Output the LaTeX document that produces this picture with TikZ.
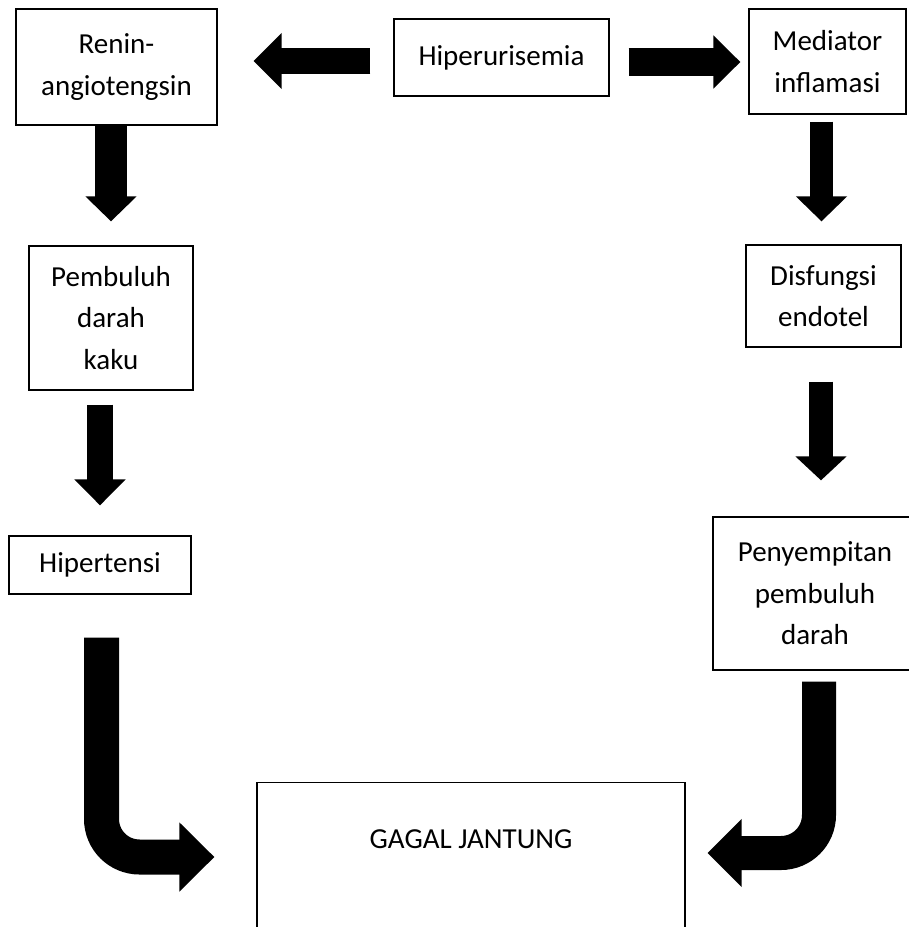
\documentclass[tikz,border=0pt]{standalone}
\usepackage{fontspec}
\setmainfont{Carlito}
\usetikzlibrary{arrows.meta}
\tikzset{
	box/.style={draw, line width=1.4pt, align=center, inner sep=0pt,
		font=\fontsize{29}{41.5}\selectfont},
	fatarrow/.style n args={3}{line width=#1, line cap=butt,
		-{Triangle[length=#2, width=#3, line width=2pt]}},
	bentarrow/.style n args={3}{fatarrow={#1}{#2}{#3}, rounded corners=38pt}
}

\begin{document}
\begin{tikzpicture}[x=1pt, y=-1pt]
			%%%%% START %%%%%
			
			\path[use as bounding box, clip] (0, 0) rectangle (909, 927);
			
			\node[box, minimum width=201pt, minimum height=116pt] (renin) at (116.5, 67) {Renin-\\angiotengsin};
			\node[box, minimum width=215pt, minimum height=77pt] (hiper) at (501.5, 57.5) {Hiperurisemia};
			\node[box, minimum width=157pt, minimum height=105pt] (mediator) at (827.5, 61.5) {Mediator\\inflamasi};
			
			\node[box, minimum width=164pt, minimum height=144pt] (pembuluh) at (111, 318) {Pembuluh\\darah\\kaku};
			\node[box, minimum width=155pt, minimum height=102pt] (disfungsi) at (823.5, 296) {Disfungsi\\endotel};
			
			\node[box, minimum width=182pt, minimum height=58pt] (hipertensi) at (100, 565) {Hipertensi};
			\node[box, minimum width=204pt, minimum height=153pt] (penyempitan) at (815, 593.5) {Penyempitan\\pembuluh\\darah};
			
			\node[box, anchor=north, minimum width=428pt, text height=18pt, text depth=120pt, inner ysep=48pt] (gagal) at (471, 782) {GAGAL JANTUNG};
			
			% top row
			\draw[fatarrow={26pt}{28pt}{56pt}, shorten <=23pt, shorten >=36pt] ([yshift=-3.5pt]hiper.west) -- ([yshift=-3.5pt]hiper.west -| renin.east);
			\draw[fatarrow={28pt}{27pt}{53pt}, shorten <=19pt, shorten >=8pt] ([yshift=-4.5pt]hiper.east) -- ([yshift=-4.5pt]hiper.east -| mediator.west);
			
			% left column
			\draw[fatarrow={32pt}{25pt}{51pt}, shorten <=0pt, shorten >=24pt] (pembuluh.north |- renin.south) -- (pembuluh.north);
			\draw[fatarrow={26pt}{26pt}{51pt}, shorten <=14pt, shorten >=30pt] (hipertensi.north |- pembuluh.south) -- (hipertensi.north);
			
			% right column
			\draw[fatarrow={23pt}{25pt}{51pt}, shorten <=7pt, shorten >=23pt] ([xshift=-2pt]disfungsi.north |- mediator.south) -- ([xshift=-2pt]disfungsi.north);
			\draw[fatarrow={24pt}{24pt}{51pt}, shorten <=34pt, shorten >=36pt] ([xshift=-2.5pt]disfungsi.south) -- ([xshift=-2.5pt]disfungsi.south |- penyempitan.north);
			
			% into gagal jantung
			\draw[bentarrow={35pt}{35pt}{69pt}, shorten <=43pt, shorten >=42pt] ([xshift=1.5pt]hipertensi.south) |- ([yshift=-75pt]gagal.north west);
			\draw[bentarrow={34pt}{34pt}{68pt}, shorten <=11pt, shorten >=22pt] ([xshift=4pt]penyempitan.south) |- ([yshift=-71pt]gagal.north east);
			
			%%%%% END %%%%%
\end{tikzpicture}
\end{document}
